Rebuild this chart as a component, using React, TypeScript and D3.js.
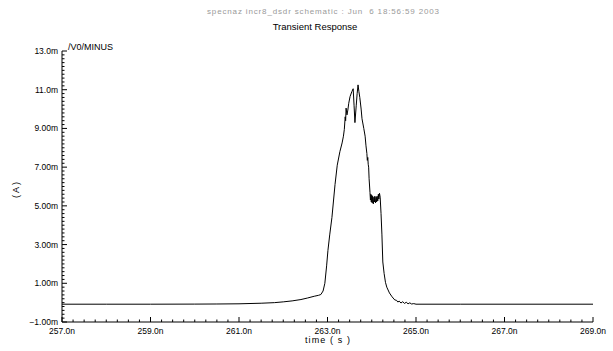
import React from 'react';
import * as d3 from 'd3';

// chart data
const timeNs = [
  257.0, 258.0, 259.0, 260.0, 260.5, 261.0, 261.5, 261.8, 262.0, 262.2, 262.4, 262.55, 262.7, 262.8, 262.85,
  262.9, 262.94, 262.98, 263.01, 263.05, 263.1, 263.17, 263.22, 263.28, 263.33, 263.36, 263.38, 263.4, 263.41,
  263.42, 263.44, 263.46, 263.48, 263.51, 263.55, 263.58, 263.6, 263.62, 263.65, 263.67, 263.69, 263.71, 263.73,
  263.76, 263.78, 263.82, 263.85, 263.87, 263.89, 263.9, 263.91, 263.92, 263.93, 263.94, 263.96, 263.97, 263.98,
  263.99, 264.0, 264.01, 264.02, 264.035, 264.05, 264.06, 264.07, 264.085, 264.1, 264.11, 264.12, 264.135, 264.15,
  264.16, 264.175, 264.19, 264.21, 264.23, 264.25, 264.28, 264.31, 264.34, 264.4, 264.46, 264.52, 264.56, 264.59,
  264.62, 264.66, 264.7, 264.74, 264.78, 264.82, 264.86, 264.9, 264.95, 265.0, 266.0, 269.0,
];
const currentMA = [
  -0.08, -0.08, -0.08, -0.075, -0.07, -0.06, -0.03, 0.0, 0.04, 0.09, 0.16, 0.24, 0.33, 0.38, 0.42,
  0.6, 1.0, 1.9, 2.7, 3.5, 4.4, 6.1, 7.1, 7.8, 8.25, 8.6, 8.95, 9.6, 9.4,
  10.05, 9.7, 9.95, 10.3, 10.65, 10.9, 11.05, 10.2, 9.3, 10.2, 10.8, 11.25, 10.9, 10.6,
  10.0, 9.5, 9.0, 8.6, 8.1, 7.7, 7.35, 7.5, 7.15, 7.0, 6.4, 5.7, 5.3, 5.6,
  5.2, 5.55, 5.15, 5.5, 5.1, 5.45, 5.2, 5.5, 5.15, 5.45, 5.2, 5.5, 5.25, 5.6,
  5.35, 5.65, 5.45, 4.6, 3.5, 2.1, 1.5, 1.05, 0.8, 0.5, 0.3, 0.14, 0.12, 0.03,
  0.08, -0.02, 0.05, -0.04, 0.02, -0.06, -0.01, -0.07, -0.05, -0.08, -0.08, -0.08,
];

const xTicks = [257, 259, 261, 263, 265, 267, 269];
const xTickLabels = ['257.0n', '259.0n', '261.0n', '263.0n', '265.0n', '267.0n', '269.0n'];
const yTicks = [13, 11, 9, 7, 5, 3, 1, -1];
const yTickLabels = ['13.0m', '11.0m', '9.00m', '7.00m', '5.00m', '3.00m', '1.00m', '\u22121.00m'];

const font = '"Liberation Sans", Arial, sans-serif';

export default function App() {
  const x = d3.scaleLinear().domain([257, 269]).range([62, 593]);
  const y = d3.scaleLinear().domain([-1, 13]).range([322, 51]);

  const pts: [number, number][] = timeNs.map((t, i) => [t, currentMA[i]]);
  const line = d3.line<[number, number]>()
    .x(d => x(d[0]))
    .y(d => y(d[1]));

  const xMinor = d3.range(257, 269.001, 0.25);
  const yMinor = d3.range(-1, 13.001, 0.2);

  return (
    <svg width={613} height={351} style={{ position: 'absolute', left: 0, top: 0, background: '#fff' }}>
      <text x={323} y={14} textAnchor="middle" fontFamily={font} fontSize={8} fill="#9a9a9a"
        textLength={232} lengthAdjust="spacing" style={{ whiteSpace: 'pre' }}>
        specnaz incr8_dsdr schematic : Jun  6 18:56:59 2003
      </text>
      <text x={315} y={30} textAnchor="middle" fontFamily={font} fontSize={9.5} fill="#000">
        Transient Response
      </text>

      {/* axes */}
      <line x1={x(257)} x2={x(269)} y1={y(-1)} y2={y(-1)} stroke="#000" strokeWidth={1} />
      <line x1={x(257)} x2={x(257)} y1={y(-1)} y2={y(13)} stroke="#000" strokeWidth={1} />

      {xMinor.map((t, i) => {
        const major = i % 8 === 0;
        return (
          <line key={'xm' + i} x1={x(t)} x2={x(t)} y1={y(-1)} y2={y(-1) - (major ? 5 : 2.5)} stroke="#000" strokeWidth={1} />
        );
      })}
      {yMinor.map((v, i) => {
        const major = i % 10 === 0;
        return (
          <line key={'ym' + i} x1={x(257)} x2={x(257) + (major ? 5 : 2.5)} y1={y(v)} y2={y(v)} stroke="#000" strokeWidth={1} />
        );
      })}

      {xTicks.map((t, i) => (
        <text key={'xl' + i} x={x(t)} y={333.5} textAnchor="middle" fontFamily={font} fontSize={8.5} fill="#000">
          {xTickLabels[i]}
        </text>
      ))}
      {yTicks.map((v, i) => (
        <text key={'yl' + i} x={58} y={y(v) + 3} textAnchor="end" fontFamily={font} fontSize={8.5} fill="#000">
          {yTickLabels[i]}
        </text>
      ))}

      <text x={68} y={50} fontFamily={font} fontSize={9} fill="#000">/V0/MINUS</text>
      <text x={305} y={343} fontFamily={font} fontSize={9} fill="#000" textLength={45} lengthAdjust="spacing">time ( s )</text>
      <text transform="translate(19,190) rotate(-90)" textAnchor="middle" fontFamily={font} fontSize={9} fill="#000">( A )</text>

      <path d={line(pts) || ''} fill="none" stroke="#000" strokeWidth={1} />
    </svg>
  );
}
